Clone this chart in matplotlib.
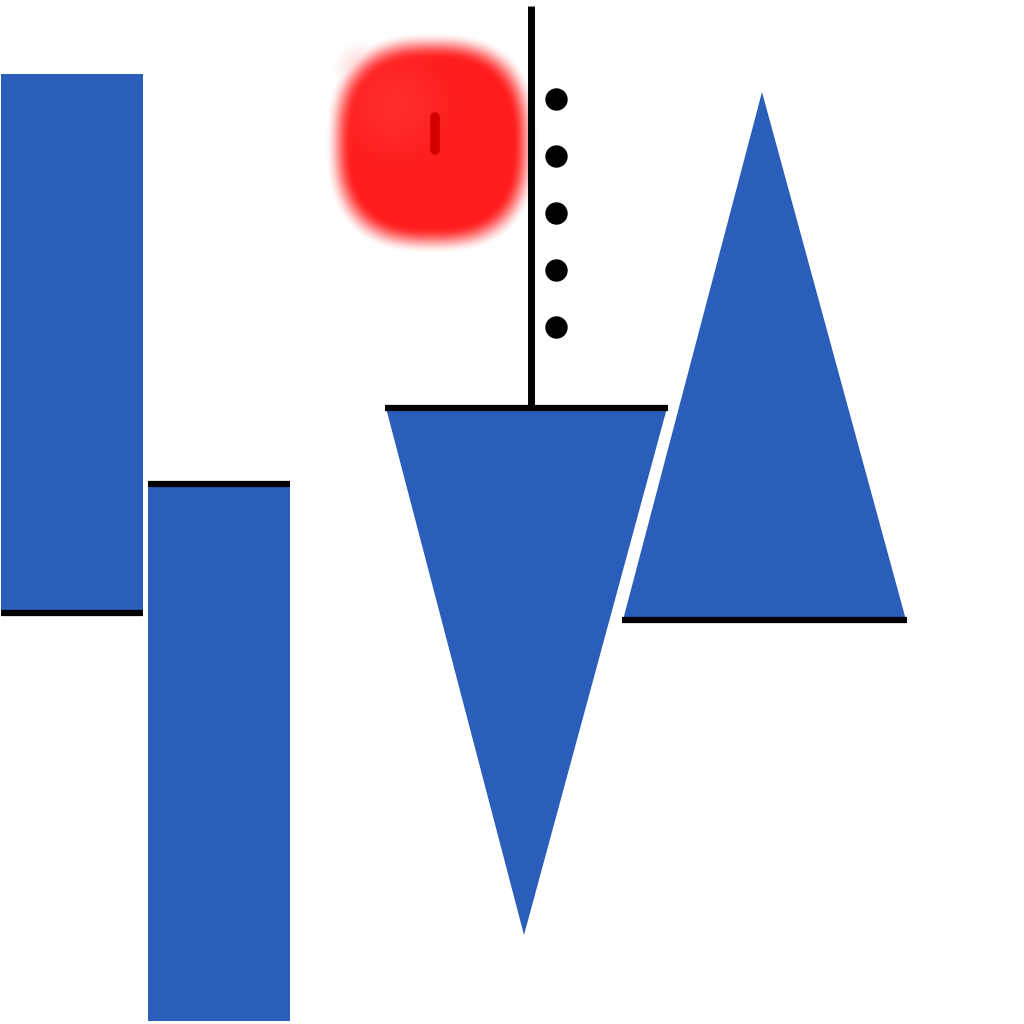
import numpy as np
import matplotlib
matplotlib.use("Agg")
import matplotlib.pyplot as plt
from matplotlib.patches import Polygon, Rectangle

# ---- data (value space: x 0..1024, y 0..1024 measured downward) ----
bar_left = [1, 148]
bar_right = [143, 290]
bar_top = [74, 484]
bar_bottom = [613, 1021]
bar_line_at = [613, 484]          # edge marked with a black rule

tri_left = [386, 623]
tri_right = [667, 906]
tri_base = [408, 620]
tri_apex_x = [524, 762]
tri_apex_y = [935, 92]

stem_x = 530.5
stem_top = 6
stem_bottom = 408

dot_x = [556, 556, 556, 556, 556]
dot_y = [99, 156, 213, 270, 327]

blob_cx, blob_cy = 432, 143
blob_hw, blob_hh = 95, 99
lobe_cx, lobe_cy, lobe_r = 360, 68, 32
mark_x = 435
mark_y0, mark_y1 = 117, 150

BLUE = "#2b5eba"

fig = plt.figure(figsize=(10.24, 10.24), dpi=100)
ax = fig.add_axes([0, 0, 1, 1])
ax.set_xlim(0, 1024)
ax.set_ylim(1024, 0)
ax.axis("off")

for l, r, t, b, ln in zip(bar_left, bar_right, bar_top, bar_bottom, bar_line_at):
    ax.add_patch(Rectangle((l, t), r - l, b - t, facecolor=BLUE, edgecolor="none"))
    ax.plot([l, r], [ln, ln], color="black", lw=4.5, solid_capstyle="butt")

for l, r, base, axp, ayp in zip(tri_left, tri_right, tri_base, tri_apex_x, tri_apex_y):
    ax.add_patch(Polygon([[l, base], [r, base], [axp, ayp]], closed=True,
                         facecolor=BLUE, edgecolor="none", zorder=2))
    ax.plot([l - 1, r + 1], [base, base], color="black", lw=4.5,
            solid_capstyle="butt", zorder=3)

ax.plot([stem_x, stem_x], [stem_top, stem_bottom], color="black", lw=5,
        solid_capstyle="butt", zorder=3)
ax.scatter(dot_x, dot_y, s=260, color="black", zorder=4, linewidths=0)

# blurred red blob
gx = np.linspace(290, 570, 281)
gy = np.linspace(5, 290, 286)
X, Y = np.meshgrid(gx, gy)
p = 2.6
d = (np.abs((X - blob_cx) / blob_hw) ** p + np.abs((Y - blob_cy) / blob_hh) ** p) ** (1 / p)
a1 = np.clip((1.13 - d) / 0.28, 0, 1)
d2 = np.hypot(X - lobe_cx, Y - lobe_cy) / lobe_r
a2 = np.clip((1.0 - d2) / 1.0, 0, 1) * 0.35
alpha = np.maximum(a1, a2)
alpha = alpha * alpha * (3 - 2 * alpha)
shade = 0.06 * np.exp(-((X - 395) ** 2 + (Y - 105) ** 2) / (2 * 35 ** 2))
img = np.zeros(X.shape + (4,))
img[..., 0] = 1.0
img[..., 1] = 0.11 + shade
img[..., 2] = 0.11 + shade
img[..., 3] = alpha
ax.imshow(img, extent=(gx[0], gx[-1], gy[-1], gy[0]), origin="upper",
          interpolation="bilinear", zorder=1)
ax.plot([mark_x, mark_x], [mark_y0, mark_y1], color="#d40000", lw=7,
        solid_capstyle="round", zorder=2)

ax.set_xlim(0, 1024)
ax.set_ylim(1024, 0)
fig.savefig("out.png", dpi=100)
